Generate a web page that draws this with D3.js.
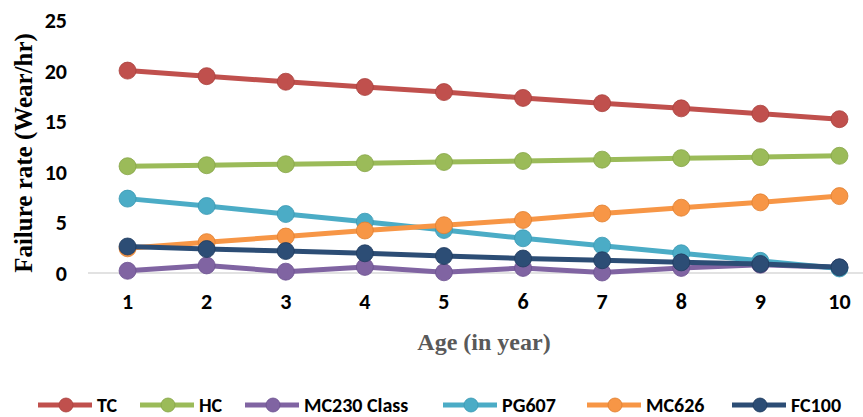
<!DOCTYPE html>
<html>
<head>
<meta charset="utf-8">
<script src="https://cdn.jsdelivr.net/npm/d3@7"></script>
<style>
  html, body { margin: 0; padding: 0; background: #fff; }
  svg { display: block; }
</style>
</head>
<body>
<svg id="chart" width="863" height="417"></svg>
<script>
// Failure rate by age for each component class
const ages = ["1", "2", "3", "4", "5", "6", "7", "8", "9", "10"];
const seriesNames = ["TC", "HC", "MC230 Class", "PG607", "MC626", "FC100"];
const tc    = [20.0, 19.45, 18.9, 18.38, 17.88, 17.3, 16.78, 16.27, 15.74, 15.2];
const hc    = [10.55, 10.65, 10.75, 10.85, 10.97, 11.07, 11.2, 11.35, 11.45, 11.58];
const mc230 = [0.22, 0.75, 0.13, 0.6, 0.07, 0.5, 0.05, 0.5, 0.82, 0.55];
const pg607 = [7.35, 6.62, 5.83, 5.07, 4.25, 3.43, 2.7, 1.95, 1.2, 0.45];
const mc626 = [2.44, 3.05, 3.6, 4.2, 4.72, 5.24, 5.88, 6.45, 6.98, 7.6];
const fc100 = [2.62, 2.37, 2.17, 1.95, 1.68, 1.43, 1.26, 1.05, 0.89, 0.56];
const yTicks = [0, 5, 10, 15, 20, 25];
const colors = ["#C0504D", "#9BBB59", "#8064A2", "#4BACC6", "#F79646", "#2C4D75"];
const strokes = ["#A9413E", "#86A448", "#6C5290", "#3A98B2", "#E07F30", "#203B5E"];

const seriesValues = [tc, hc, mc230, pg607, mc626, fc100];
const series = seriesNames.map((name, i) => ({
  name, color: colors[i], stroke: strokes[i],
  values: seriesValues[i].map((v, j) => ({ age: ages[j], v }))
}));

const svg = d3.select("#chart");
const labelFont = "Carlito, 'DejaVu Sans Condensed', 'DejaVu Sans', sans-serif";
const titleFont = "'Liberation Serif', 'Times New Roman', serif";

const x = d3.scaleBand().domain(ages).range([88, 879]);
const y = d3.scaleLinear().domain([0, 25]).range([273, 20]);
const cx = d => x(d.age) + x.bandwidth() / 2;

// baseline at zero
svg.append("line")
  .attr("x1", x.range()[0]).attr("x2", 863)
  .attr("y1", y(0)).attr("y2", y(0))
  .attr("stroke", "#D9D9D9").attr("stroke-width", 1.3);

// y axis tick labels
const yAxis = d3.axisLeft(y).tickValues(yTicks).tickSize(0).tickPadding(0);
const gy = svg.append("g").attr("transform", "translate(67,0)").call(yAxis);
gy.select(".domain").remove();
gy.selectAll("text")
  .attr("font-family", labelFont).attr("font-weight", "bold")
  .attr("font-size", 22).attr("fill", "#000").attr("dy", "0.34em");

// x axis tick labels
const xAxis = d3.axisBottom(x).tickSize(0).tickPadding(0);
const gx = svg.append("g").attr("transform", "translate(0,309)").call(xAxis);
gx.select(".domain").remove();
gx.selectAll("text")
  .attr("font-family", labelFont).attr("font-weight", "bold")
  .attr("font-size", 22).attr("fill", "#000").attr("y", 0).attr("dy", 0);

// axis titles
svg.append("text")
  .attr("transform", "translate(32,153) rotate(-90)")
  .attr("text-anchor", "middle")
  .attr("font-family", titleFont).attr("font-weight", "bold")
  .attr("font-size", 25).attr("fill", "#000")
  .text("Failure rate (Wear/hr)");

svg.append("text")
  .attr("x", 484).attr("y", 350)
  .attr("text-anchor", "middle")
  .attr("font-family", titleFont).attr("font-weight", "bold")
  .attr("font-size", 24).attr("fill", "#595959")
  .text("Age (in year)");

// series lines and markers
const line = d3.line().x(cx).y(d => y(d.v));
const plot = svg.append("g");
series.forEach(s => {
  const g = plot.append("g");
  g.append("path").datum(s.values)
    .attr("d", line).attr("fill", "none")
    .attr("stroke", s.color).attr("stroke-width", 5)
    .attr("stroke-linejoin", "round");
  g.selectAll("circle").data(s.values).join("circle")
    .attr("cx", cx).attr("cy", d => y(d.v)).attr("r", 8.5)
    .attr("fill", s.color).attr("stroke", s.stroke).attr("stroke-width", 0.8);
});

// legend
const legendX = [38, 140, 245, 443, 587, 732];
const legendY = 405;
const lg = svg.append("g");
series.forEach((s, i) => {
  const g = lg.append("g").attr("transform", `translate(${legendX[i]},${legendY})`);
  g.append("line").attr("x1", 0).attr("x2", 54).attr("y1", 0).attr("y2", 0)
    .attr("stroke", s.color).attr("stroke-width", 5);
  g.append("circle").attr("cx", 28).attr("cy", 0).attr("r", 7)
    .attr("fill", s.color).attr("stroke", s.stroke).attr("stroke-width", 0.8);
  g.append("text").attr("x", 59).attr("y", 0).attr("dy", "0.36em")
    .attr("font-family", labelFont).attr("font-weight", "bold")
    .attr("font-size", 20).attr("fill", "#000")
    .text(s.name);
});
</script>
</body>
</html>
